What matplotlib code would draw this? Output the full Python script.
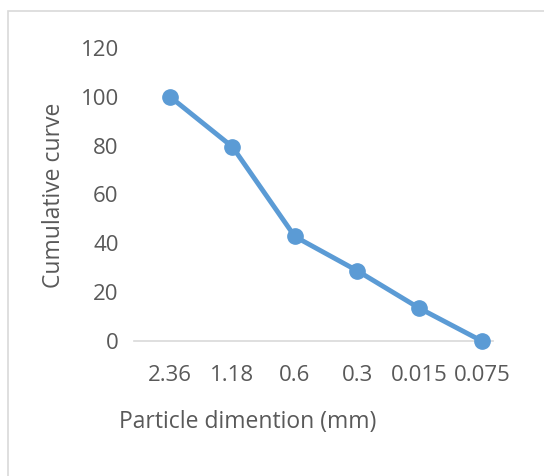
import numpy as np
import matplotlib.pyplot as plt
from matplotlib.patches import Rectangle

sizes = ['2.36', '1.18', '0.6', '0.3', '0.015', '0.075']
cumulative = [100, 79.5, 42.8, 28.8, 13.4, 0]
yticks = [0, 20, 40, 60, 80, 100, 120]

plt.rcParams['font.family'] = ['Open Sans', 'DejaVu Sans']
W, H = 544, 476
fig = plt.figure(figsize=(W / 100, H / 100), dpi=100)

# light outer frame like the Excel chart area (cut off at right/bottom)
fig.patches.append(Rectangle((8 / W, -0.1), 1.2, 1 - 11 / H + 0.1,
                             transform=fig.transFigure, fill=False,
                             edgecolor='#d9d9d9', linewidth=1.2))

# axes placed in pixel terms: left 134, right 493, y=0 at 341, y=120 at 48
ax = fig.add_axes([134 / W, 1 - 341 / H, (493 - 134) / W, (341 - 48) / H])
x = np.arange(len(sizes))
ax.plot(x, cumulative, color='#5b9bd5', linewidth=3.5, marker='o',
        markersize=11, solid_capstyle='round', clip_on=False, zorder=3)

ax.set_xlim(-0.58, 5.18)
ax.set_ylim(0, 120)
ax.set_yticks(yticks)
ax.set_xticks(x)
ax.set_xticklabels(sizes)
for s in ['top', 'right', 'left']:
    ax.spines[s].set_visible(False)
ax.spines['bottom'].set_color('#d9d9d9')
ax.spines['bottom'].set_linewidth(1.2)
ax.spines['bottom'].set_zorder(0)
ax.tick_params(length=0, labelsize=16, labelcolor='#595959')
ax.tick_params(axis='x', pad=17)
ax.tick_params(axis='y', pad=11)
ax.patch.set_alpha(0)

fig.text(54 / W, 1 - 195 / H, 'Cumulative curve', rotation=90,
         ha='center', va='center', fontsize=16.5, color='#595959')
fig.text(248 / W, 1 - 422 / H, 'Particle dimention (mm)',
         ha='center', va='center', fontsize=16.5, color='#595959')

fig.savefig('out.png', dpi=100)
